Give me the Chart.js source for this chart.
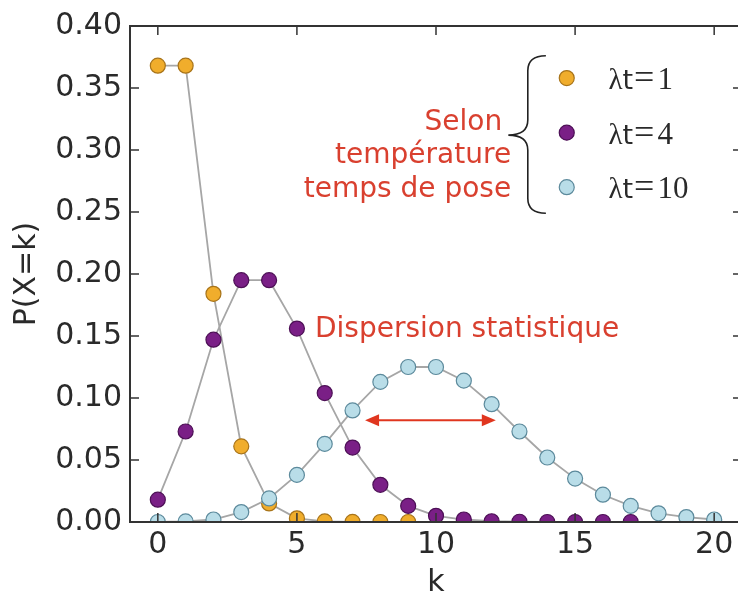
<!DOCTYPE html>
<html>
<head>
<meta charset="utf-8">
<script src="https://cdn.jsdelivr.net/npm/chart.js"></script>
<style>
  html, body { margin: 0; padding: 0; background: #fff; overflow: hidden; }
  #wrap { width: 760px; height: 595px; }
</style>
</head>
<body>
<div id="wrap"><canvas id="chart"></canvas></div>
<script>
// k values on the x axis
const kValues = [0, 1, 2, 3, 4, 5, 6, 7, 8, 9, 10, 11, 12, 13, 14, 15, 16, 17, 18, 19, 20];

// P(X=k)
const lambda1 = [0.368, 0.368, 0.184, 0.061, 0.015, 0.003, 0.0005, 0.0001, 0.0, 0.0];
const lambda4 = [0.018, 0.073, 0.147, 0.195, 0.195, 0.156, 0.104, 0.060, 0.030, 0.013,
                 0.005, 0.002, 0.0006, 0.0002, 0.0, 0.0, 0.0, 0.0];
const lambda10 = [0.0, 0.0005, 0.002, 0.008, 0.019, 0.038, 0.063, 0.090, 0.113, 0.125,
                  0.125, 0.114, 0.095, 0.073, 0.052, 0.035, 0.022, 0.013, 0.007, 0.004, 0.002];

const seriesLabels = ["\u03bbt=1", "\u03bbt=4", "\u03bbt=10"];
const legendValues = ["1", "4", "10"];
const xTickValues = [0, 5, 10, 15, 20];
const yTickValues = [0, 0.05, 0.10, 0.15, 0.20, 0.25, 0.30, 0.35, 0.40];

const noteLines = ["Selon ", "temp\u00e9rature", "temps de pose"];
const dispersionText = "Dispersion statistique";

const fills = ["#f0ad2c", "#7a1f86", "#b9dde8"];
const edges = ["#a8741a", "#4d1056", "#5c8a9c"];
const red = "#d9402f";
const fontFamily = "'DejaVu Sans', sans-serif";
const serifFamily = "'Liberation Serif', serif";

Chart.defaults.font.family = fontFamily;

function toPoints(values) {
  return values.map((v, i) => ({ x: kValues[i], y: v }));
}

function makeDataset(idx, values) {
  return {
    label: seriesLabels[idx],
    data: toPoints(values),
    borderColor: "#a6a6a6",
    borderWidth: 1.8,
    pointRadius: 7.5,
    pointBorderWidth: 1.2,
    pointBackgroundColor: fills[idx],
    pointBorderColor: edges[idx],
    order: 3 - idx,
    tension: 0
  };
}

// box + inward ticks, drawn over the markers like matplotlib
const framePlugin = {
  id: "frame",
  afterDatasetsDraw(chart) {
    const { ctx, chartArea: a, scales: { x, y } } = chart;
    const len = 9;
    ctx.save();
    ctx.strokeStyle = "#333";
    ctx.lineWidth = 1.5;
    ctx.beginPath();
    xTickValues.forEach(v => {
      const px = x.getPixelForValue(v);
      ctx.moveTo(px, a.bottom); ctx.lineTo(px, a.bottom - len);
      ctx.moveTo(px, a.top); ctx.lineTo(px, a.top + len);
    });
    yTickValues.forEach(v => {
      const py = y.getPixelForValue(v);
      ctx.moveTo(a.left, py); ctx.lineTo(a.left + len, py);
      ctx.moveTo(a.right, py); ctx.lineTo(a.right - len, py);
    });
    ctx.stroke();
    ctx.lineWidth = 2;
    ctx.strokeRect(a.left, a.top, a.right - a.left, a.bottom - a.top);
    ctx.restore();
  }
};

function drawBrace(ctx, xTip, xLine, xEnd, yTop, yMid, yBot) {
  const r = 15;
  ctx.beginPath();
  ctx.moveTo(xEnd, yTop);
  ctx.quadraticCurveTo(xLine, yTop, xLine, yTop + r);
  ctx.lineTo(xLine, yMid - r);
  ctx.quadraticCurveTo(xLine, yMid, xTip, yMid);
  ctx.quadraticCurveTo(xLine, yMid, xLine, yMid + r);
  ctx.lineTo(xLine, yBot - r);
  ctx.quadraticCurveTo(xLine, yBot, xEnd, yBot);
  ctx.stroke();
}

function arrowHead(ctx, xTip, yTip, dir) {
  ctx.beginPath();
  ctx.moveTo(xTip, yTip);
  ctx.lineTo(xTip - dir * 14, yTip - 6);
  ctx.lineTo(xTip - dir * 14, yTip + 6);
  ctx.closePath();
  ctx.fill();
}

// "λt=1" in the mathtext look: serif lambda, sans t, wide equals sign
function drawLegendLabel(ctx, value, x0, baseline) {
  let cx = x0;
  const parts = [
    ["\u03bb", "29px " + serifFamily, 0],
    ["t", "500 27px " + fontFamily, 0],
    ["=", "36px " + serifFamily, 1],
    [value, "31px " + serifFamily, 3]
  ];
  parts.forEach(([t, f, gap]) => {
    ctx.font = f;
    cx += gap;
    ctx.fillText(t, cx, baseline);
    cx += ctx.measureText(t).width;
  });
}

const notesPlugin = {
  id: "notes",
  afterDraw(chart) {
    const { ctx, scales: { x, y } } = chart;
    ctx.save();

    // legend
    const legendRows = [0.358, 0.314, 0.270];
    ctx.textBaseline = "alphabetic";
    ctx.textAlign = "left";
    legendRows.forEach((ry, i) => {
      const py = y.getPixelForValue(ry);
      ctx.beginPath();
      ctx.arc(x.getPixelForValue(14.7), py, 7.5, 0, Math.PI * 2);
      ctx.fillStyle = fills[i];
      ctx.fill();
      ctx.lineWidth = 1.2;
      ctx.strokeStyle = edges[i];
      ctx.stroke();
      ctx.fillStyle = "#2a2a2a";
      drawLegendLabel(ctx, legendValues[i], x.getPixelForValue(16.2), py + 11);
    });

    // brace
    ctx.strokeStyle = "#222";
    ctx.lineWidth = 1.6;
    drawBrace(ctx, x.getPixelForValue(12.6), x.getPixelForValue(13.3), x.getPixelForValue(13.95),
      y.getPixelForValue(0.376), y.getPixelForValue(0.312), y.getPixelForValue(0.249));

    // red notes
    ctx.fillStyle = red;
    ctx.font = "28px " + fontFamily;
    ctx.textAlign = "right";
    ctx.textBaseline = "middle";
    const noteY = [0.322, 0.295, 0.268];
    noteLines.forEach((t, i) => {
      ctx.fillText(t, x.getPixelForValue(12.7), y.getPixelForValue(noteY[i]));
    });
    ctx.textAlign = "left";
    ctx.fillText(dispersionText, x.getPixelForValue(5.65), y.getPixelForValue(0.155));

    // dispersion arrow
    const ax1 = x.getPixelForValue(7.45), ax2 = x.getPixelForValue(12.15);
    const ay = y.getPixelForValue(0.082);
    ctx.strokeStyle = "#e0361f";
    ctx.fillStyle = "#e0361f";
    ctx.lineWidth = 2;
    ctx.beginPath();
    ctx.moveTo(ax1 + 10, ay);
    ctx.lineTo(ax2 - 10, ay);
    ctx.stroke();
    arrowHead(ctx, ax1, ay, -1);
    arrowHead(ctx, ax2, ay, 1);

    ctx.restore();
  }
};

new Chart(document.getElementById("chart").getContext("2d"), {
  type: "line",
  data: {
    datasets: [
      makeDataset(0, lambda1),
      makeDataset(1, lambda4),
      makeDataset(2, lambda10)
    ]
  },
  options: {
    responsive: true,
    maintainAspectRatio: false,
    animation: false,
    layout: { padding: { top: 25, right: 18, left: 0, bottom: 0 } },
    plugins: { legend: { display: false }, tooltip: { enabled: false } },
    scales: {
      x: {
        type: "linear",
        min: -1,
        max: 21,
        afterBuildTicks: s => { s.ticks = xTickValues.map(v => ({ value: v })); },
        afterFit: s => { s.height = 73; },
        grid: { display: false, drawTicks: false },
        border: { display: false },
        ticks: { color: "#2a2a2a", padding: 5, font: { size: 30 }, maxRotation: 0 },
        title: { display: true, text: "k", color: "#2a2a2a", font: { size: 30, lineHeight: 0.8 }, padding: 0 }
      },
      y: {
        type: "linear",
        min: 0,
        max: 0.4,
        afterBuildTicks: s => { s.ticks = yTickValues.map(v => ({ value: v })); },
        afterFit: s => { s.width = 130; },
        grid: { display: false, drawTicks: false },
        border: { display: false },
        ticks: { color: "#2a2a2a", padding: 8, font: { size: 30 }, callback: v => v.toFixed(2) },
        title: { display: true, text: "P(X=k)", color: "#2a2a2a", font: { size: 30, lineHeight: 1.2 }, padding: { top: 9, bottom: 0 } }
      }
    }
  },
  plugins: [framePlugin, notesPlugin]
});
</script>
</body>
</html>
